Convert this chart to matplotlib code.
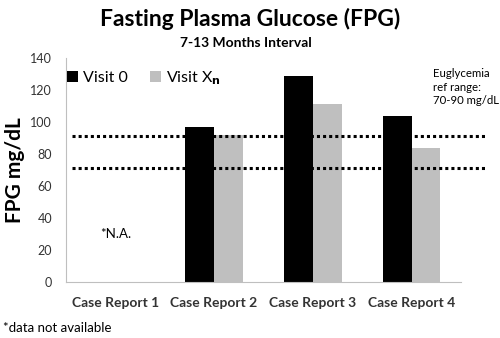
import numpy as np
import matplotlib
matplotlib.use("Agg")
import matplotlib.pyplot as plt

plt.rcParams['font.family'] = ['Lato', 'DejaVu Sans']

# Данные
categories = ["Case Report 1", "Case Report 2", "Case Report 3", "Case Report 4"]
visit0 = [0, 97, 129, 104]
visitxn = [0, 92, 111, 84]
ref_low = 71
ref_high = 91

fig = plt.figure(figsize=(5, 3.38), dpi=100)
ax = fig.add_axes([0.132, 0.166, 0.79, 0.662])

x = np.arange(len(categories))
w = 0.29
ax.bar(x - w / 2, visit0, w, color="black", label="Visit 0")
ax.bar(x + w / 2, visitxn, w, color="#bfbfbf", label="Visit X$_\\mathbf{n}$")

# референсные линии (выходят за правый край)
for val in (ref_low, ref_high):
    ax.plot([-0.44, 3.74], [val, val], color="black", linestyle=(0, (1, 1)),
            linewidth=2.2, clip_on=False, zorder=5)

ax.set_xlim(-0.5, 3.5)
ax.set_ylim(0, 140)
ax.set_yticks(range(0, 141, 20))
ax.set_xticks(x)
ax.set_xticklabels(categories, fontweight="bold", fontsize=10)
ax.tick_params(axis="both", length=0, labelsize=9, colors="#333333")
ax.tick_params(axis="x", pad=11, labelsize=10)
ax.tick_params(axis="y", pad=10)
for s in ["top", "right"]:
    ax.spines[s].set_visible(False)
for s in ["left", "bottom"]:
    ax.spines[s].set_color("#bfbfbf")

ax.set_ylabel("FPG mg/dL", fontsize=15, fontweight="bold", labelpad=4)

ax.legend(loc="upper left", bbox_to_anchor=(-0.022, 0.995), ncol=2, frameon=False,
          fontsize=11.5, handlelength=0.7, handleheight=0.7, handletextpad=0.3,
          columnspacing=1.4, borderaxespad=0.2)

fig.text(0.5, 0.945, "Fasting Plasma Glucose (FPG)", ha="center", va="center",
         fontsize=16.5, fontweight="bold")
fig.text(0.491, 0.872, "7-13 Months Interval", ha="center", va="center",
         fontsize=10, fontweight="bold")
fig.text(0.866, 0.742, "Euglycemia\nref range:\n70-90 mg/dL", ha="left", va="center",
         fontsize=8.2, linespacing=1.3)
ax.text(0.0, 30, "*N.A.", ha="center", va="center", fontsize=9.5)
fig.text(0.006, 0.03, "*data not available", ha="left", va="center", fontsize=9.5)

plt.savefig("out.png", dpi=100)
